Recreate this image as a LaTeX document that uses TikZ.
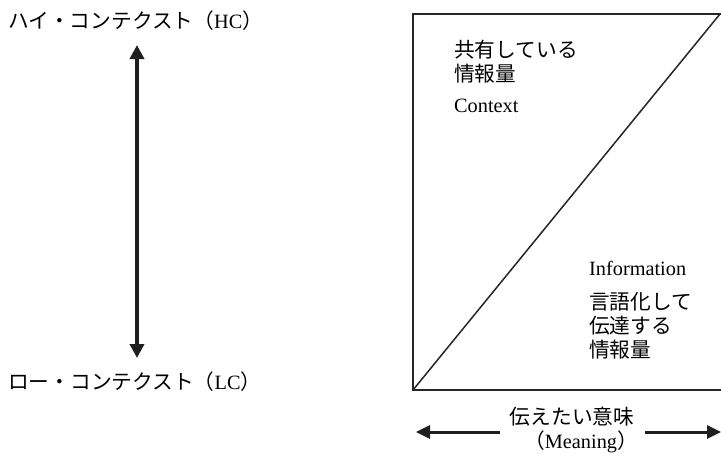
\documentclass[tikz,border=0pt]{standalone}
\usepackage{fontspec}
\setmainfont{Liberation Serif}
\newfontfamily\jp{Noto Sans CJK JP}[Scale=1.02]
\usetikzlibrary{arrows.meta}
\tikzset{
  lbl/.style={inner sep=0pt, font=\fontsize{20.3}{24}\selectfont, anchor=west},
  clbl/.style={inner sep=0pt, font=\fontsize{20.3}{24}\selectfont, anchor=center},
  bigarrow/.style={line width=4pt, {Triangle[length=14pt,width=14pt]}-{Triangle[length=14pt,width=14pt]}, color=black!88},
  harrow/.style={line width=3pt, -{Triangle[length=14pt,width=13pt]}, color=black!88},
  boxline/.style={line width=2pt, color=black!85},
  diag/.style={line width=1.5pt, color=black!85}
}
\begin{document}
\begin{tikzpicture}[x=1pt,y=-1pt]
\useasboundingbox (0,0) rectangle (721,453);
\clip (0,0) rectangle (721,453);
% left side
\node[lbl] (hc) at (8,21) {{\jp ハイ・コンテクスト（}HC{\jp ）}};
\node[lbl] (lc) at (8,382) {{\jp ロー・コンテクスト（}LC{\jp ）}};
\coordinate (vtop) at (137,45);
\coordinate (vbot) at (137,358);
\draw[bigarrow] (vtop) -- (vbot);
% box
\coordinate (bl) at (413,390);
\coordinate (tl) at (413,14);
\coordinate (tr) at (723,14);
\coordinate (br) at (723,390);
\coordinate (dtop) at (720,14);
\draw[boxline] (tr) -- (tl) -- (bl) -- (br);
\draw[diag] (bl) -- (dtop);
\node[lbl] (s1) at (454,50) {\jp 共有している};
\node[lbl] (s2) at (454,74) {\jp 情報量};
\node[lbl] (ctx) at (454,106) {Context};
\node[lbl] (inf) at (589,268) {Information};
\node[lbl] (i1) at (589,302) {\jp 言語化して};
\node[lbl] (i2) at (589,326) {\jp 伝達する};
\node[lbl] (i3) at (589,350) {\jp 情報量};
% bottom
\node[clbl] (m1) at (572,417) {\jp 伝えたい意味};
\node[clbl] (m2) at (581,442) {{\jp （}Meaning{\jp ）}};
\coordinate (lt) at (416,432);
\coordinate (rt) at (721,432);
\coordinate (la) at (500,432);
\coordinate (ra) at (645,432);
\draw[harrow] (la) -- (lt);
\draw[harrow] (ra) -- (rt);
\end{tikzpicture}
\end{document}
